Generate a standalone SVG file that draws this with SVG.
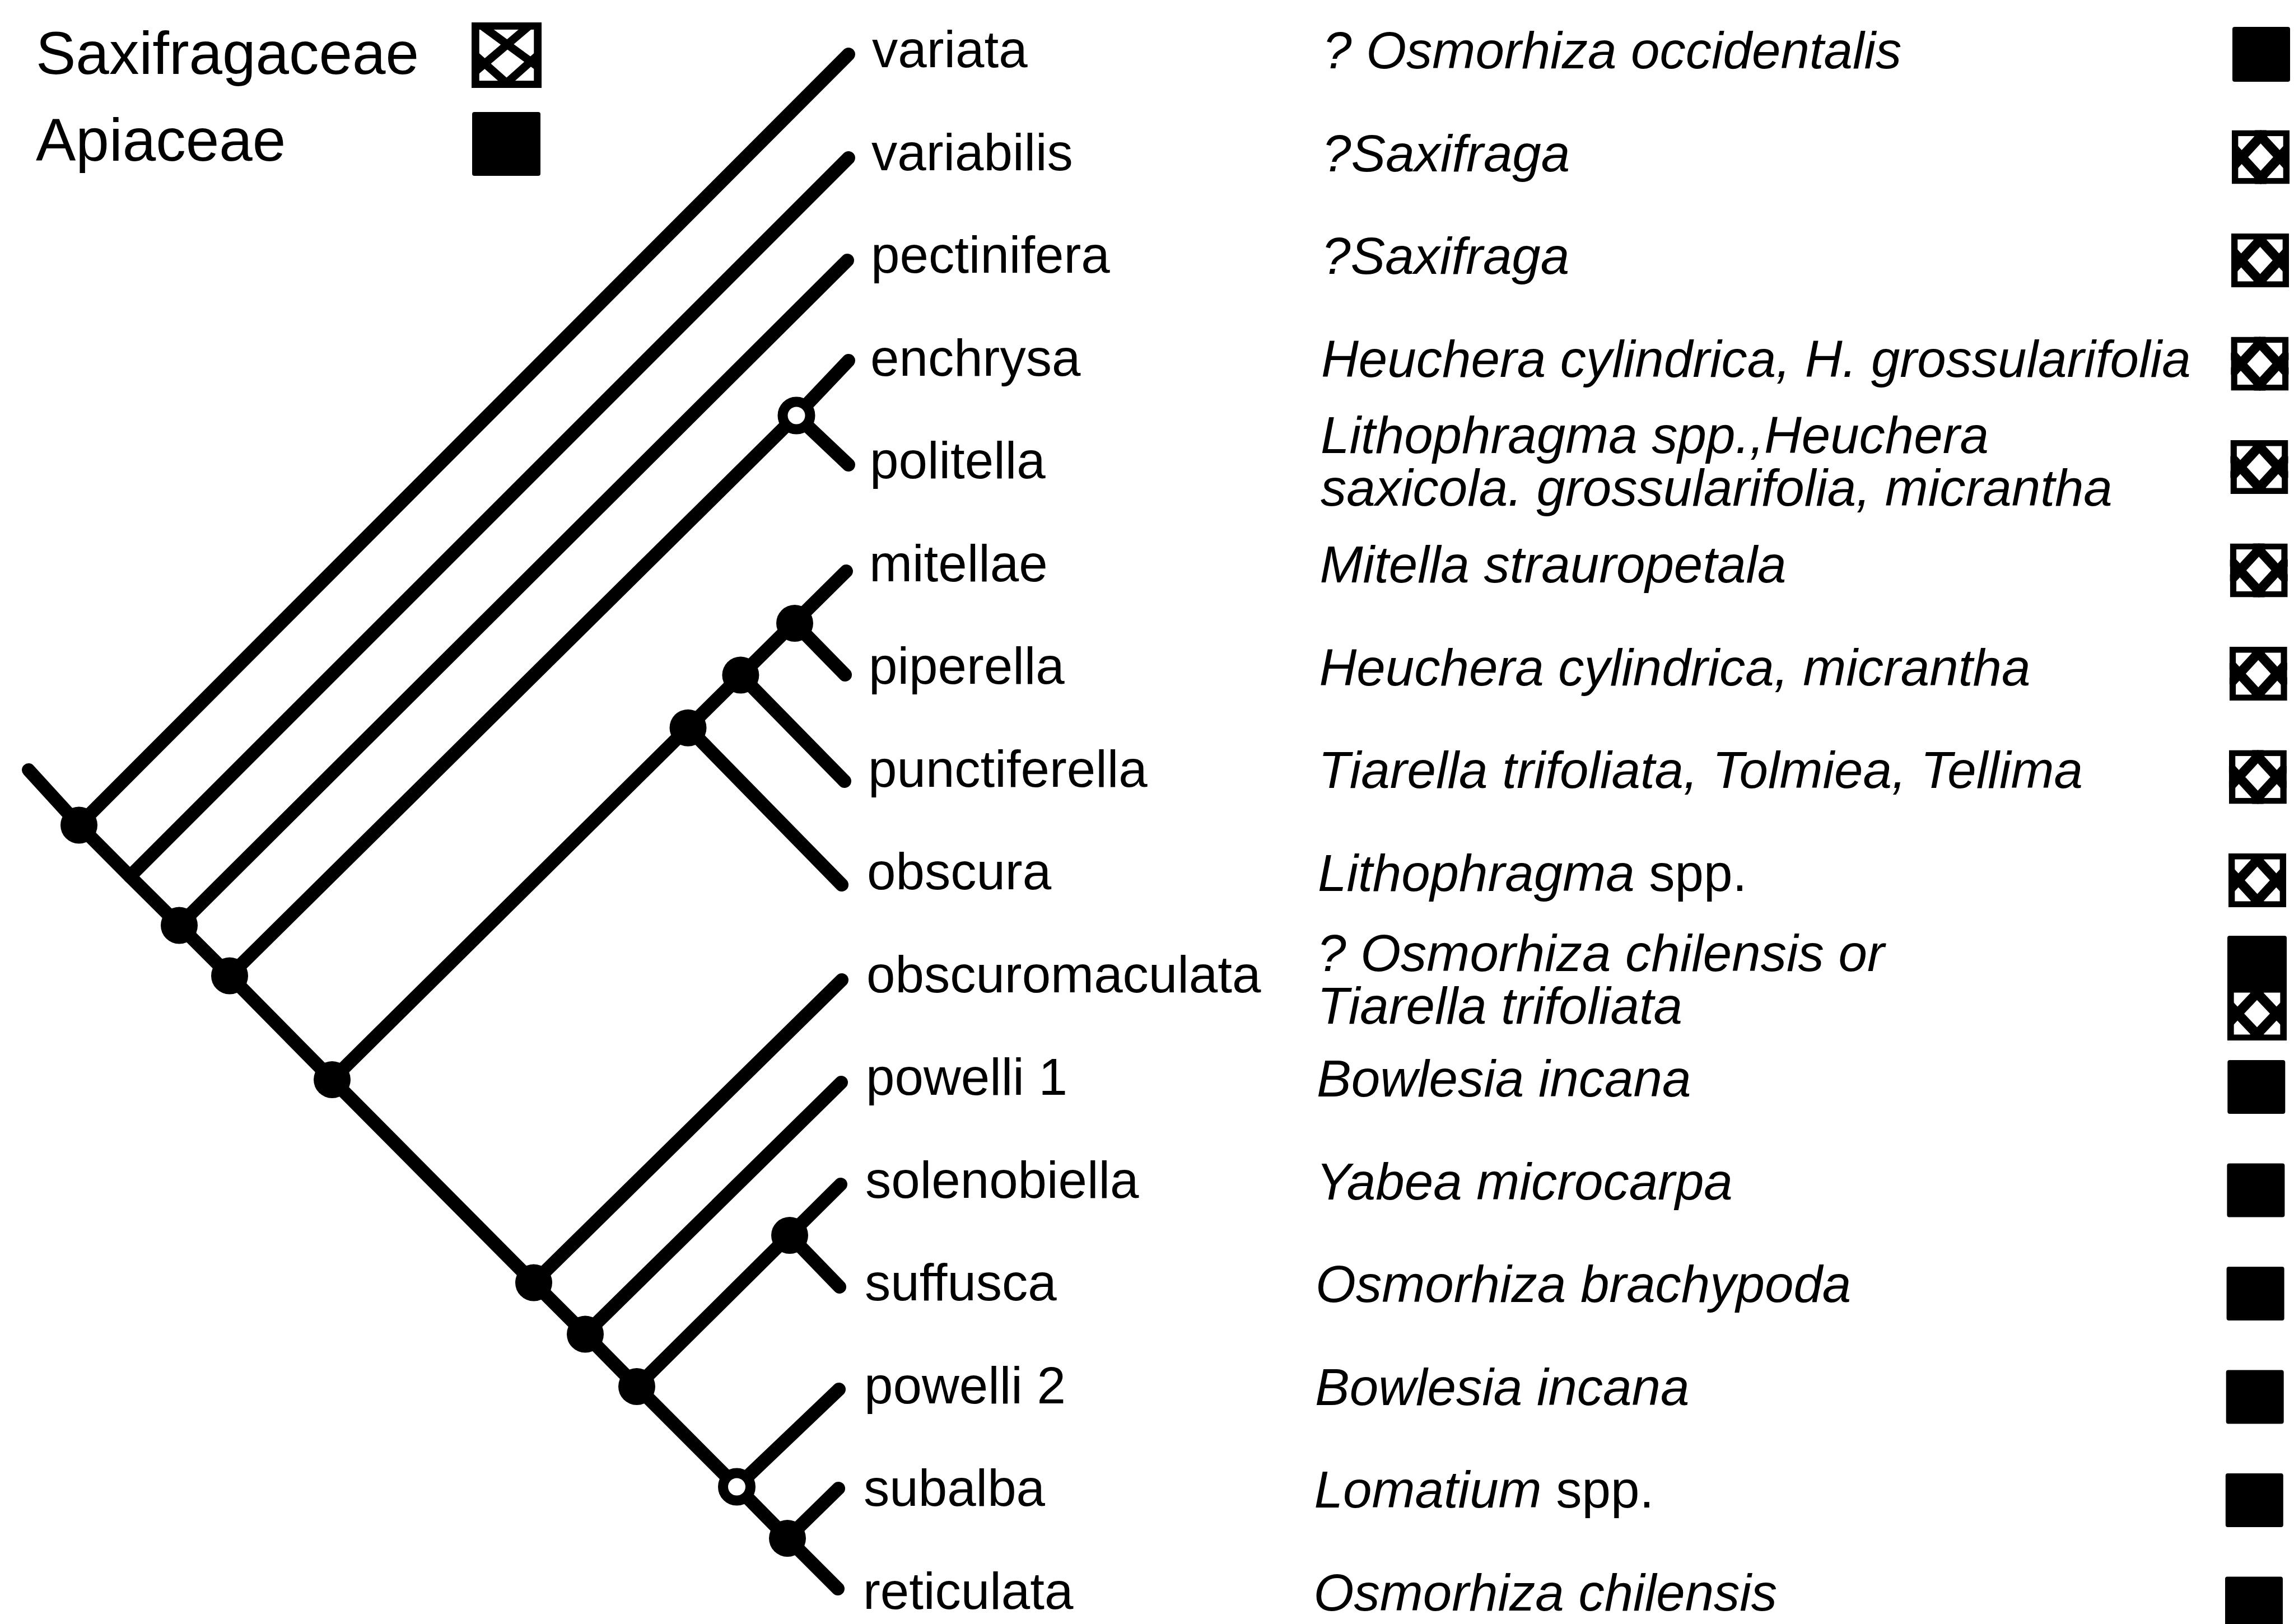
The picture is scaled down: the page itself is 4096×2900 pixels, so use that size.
<svg xmlns="http://www.w3.org/2000/svg" xmlns:xlink="http://www.w3.org/1999/xlink" width="4096" height="2900" viewBox="0 0 4096 2900">
<style>
.sp{font-family:"Liberation Sans",Arial,Helvetica,sans-serif;font-size:92.5px;fill:#000}
.ho{font-family:"Liberation Sans",Arial,Helvetica,sans-serif;font-size:92.5px;font-style:italic;fill:#000}
.up{font-style:normal}
.lg{font-family:"Liberation Sans",Arial,Helvetica,sans-serif;font-size:107px;fill:#000}
.br{fill:none;stroke:#000;stroke-width:24;stroke-linecap:round;stroke-linejoin:round}
.dot{fill:#000}
.hol{fill:#fff;stroke:#000;stroke-width:18}
.blk{fill:#000}
</style>
<defs>
<symbol id="hatch" viewBox="0 0 100 100" preserveAspectRatio="none">
<rect x="0" y="0" width="100" height="100" fill="#fff"/>
<g stroke="#000" stroke-width="17" fill="none">
<line x1="60" y1="0" x2="0" y2="70"/>
<line x1="40" y1="0" x2="100" y2="70"/>
<line x1="0" y1="30" x2="60" y2="100"/>
<line x1="100" y1="30" x2="40" y2="100"/>
</g>
<rect x="5.5" y="5.5" width="89" height="89" fill="none" stroke="#000" stroke-width="11"/>
</symbol>
<symbol id="hatchL" viewBox="0 0 100 100" preserveAspectRatio="none">
<rect x="0" y="0" width="100" height="100" fill="#fff"/>
<g stroke="#000" stroke-width="12" fill="none">
<line x1="88" y1="0" x2="0" y2="80"/>
<line x1="8" y1="0" x2="100" y2="72"/>
<line x1="0" y1="45" x2="58" y2="100"/>
<line x1="100" y1="45" x2="42" y2="100"/>
</g>
<rect x="5.5" y="5.5" width="89" height="89" fill="none" stroke="#000" stroke-width="11"/>
</symbol>
</defs>
<rect width="4096" height="2900" fill="#fff"/>

<g id="legend">
<text class="lg" x="64" y="132">Saxifragaceae</text>
<use xlink:href="#hatchL" href="#hatchL" x="842" y="40" width="125" height="117"/>
<text class="lg" x="64" y="287">Apiaceae</text>
<rect class="blk" x="843" y="200" width="122" height="114" rx="4"/>
</g>

<g id="connectors">
<polyline class="br" points="51,1375 141,1473.5 232,1565 320,1652.5 410,1742.5 593,1928 953,2290.5 1045,2382.5 1137,2476 1315.5,2655 1406,2747 1496,2837"/>
<line class="br" x1="141" y1="1473.5" x2="1515" y2="97"/>
<line class="br" x1="232" y1="1565" x2="1515" y2="282"/>
<line class="br" x1="320" y1="1652.5" x2="1513" y2="465"/>
<line class="br" x1="410" y1="1742.5" x2="1422" y2="742"/>
<line class="br" x1="1422" y1="742" x2="1515" y2="644"/>
<line class="br" x1="1422" y1="742" x2="1515" y2="830"/>
<line class="br" x1="593" y1="1928" x2="1511" y2="1020"/>
<line class="br" x1="1228.5" y1="1299.7" x2="1503" y2="1580"/>
<line class="br" x1="1322.4" y1="1205.6" x2="1508" y2="1395"/>
<line class="br" x1="1419" y1="1113" x2="1509" y2="1205"/>
<line class="br" x1="953" y1="2290.5" x2="1503" y2="1750"/>
<line class="br" x1="1045" y1="2382.5" x2="1502" y2="1933"/>
<line class="br" x1="1137" y1="2476" x2="1501" y2="2115"/>
<line class="br" x1="1410" y1="2206" x2="1499" y2="2298"/>
<line class="br" x1="1315.5" y1="2655" x2="1498" y2="2481"/>
<line class="br" x1="1406" y1="2747" x2="1497" y2="2658"/>
</g>

<g id="tree-nodes">
<circle class="dot" cx="141" cy="1473.5" r="33"/>
<circle class="dot" cx="320" cy="1652.5" r="33"/>
<circle class="dot" cx="410" cy="1742.5" r="33"/>
<circle class="dot" cx="593" cy="1928" r="33"/>
<circle class="hol" cx="1422" cy="742" r="24.5"/>
<circle class="dot" cx="1228.5" cy="1299.7" r="33"/>
<circle class="dot" cx="1322.4" cy="1205.6" r="33"/>
<circle class="dot" cx="1419" cy="1113" r="33"/>
<circle class="dot" cx="953" cy="2290.5" r="33"/>
<circle class="dot" cx="1045" cy="2382.5" r="33"/>
<circle class="dot" cx="1137" cy="2476" r="33"/>
<circle class="dot" cx="1410" cy="2206" r="33"/>
<circle class="hol" cx="1315.5" cy="2655" r="24.5"/>
<circle class="dot" cx="1406" cy="2747" r="33"/>
</g>

<g id="row-variata">
<text class="sp" x="1557" y="120">variata</text>
<text class="ho" x="2362" y="122">? Osmorhiza occidentalis</text>
<rect class="blk" x="3986" y="48" width="103" height="98" rx="4"/>
</g>
<g id="row-variabilis">
<text class="sp" x="1556" y="303.5">variabilis</text>
<text class="ho" x="2361" y="305.6">?Saxifraga</text>
<use xlink:href="#hatch" href="#hatch" x="3985" y="232.5" width="103" height="96"/>
</g>
<g id="row-pectinifera">
<text class="sp" x="1555" y="487">pectinifera</text>
<text class="ho" x="2360" y="489.2">?Saxifraga</text>
<use xlink:href="#hatch" href="#hatch" x="3984" y="417" width="103" height="96"/>
</g>
<g id="row-enchrysa">
<text class="sp" x="1554" y="670.5">enchrysa</text>
<text class="ho" x="2359" y="672.8">Heuchera cylindrica, H. grossularifolia</text>
<use xlink:href="#hatch" href="#hatch" x="3983.4" y="601.5" width="103" height="96"/>
</g>
<g id="row-politella">
<text class="sp" x="1553" y="854">politella</text>
<text class="ho" x="2358" y="809">Lithophragma spp.,Heuchera</text>
<text class="ho" x="2358" y="903">saxicola. grossularifolia, micrantha</text>
<use xlink:href="#hatch" href="#hatch" x="3982.5" y="786" width="103" height="96"/>
</g>
<g id="row-mitellae">
<text class="sp" x="1552" y="1037.5">mitellae</text>
<text class="ho" x="2356.5" y="1040">Mitella strauropetala</text>
<use xlink:href="#hatch" href="#hatch" x="3981.7" y="970.5" width="103" height="96"/>
</g>
<g id="row-piperella">
<text class="sp" x="1551" y="1221">piperella</text>
<text class="ho" x="2355.5" y="1223.6">Heuchera cylindrica, micrantha</text>
<use xlink:href="#hatch" href="#hatch" x="3980.8" y="1155" width="103" height="96"/>
</g>
<g id="row-punctiferella">
<text class="sp" x="1550" y="1404.5">punctiferella</text>
<text class="ho" x="2354" y="1407.2">Tiarella trifoliata, Tolmiea, Tellima</text>
<use xlink:href="#hatch" href="#hatch" x="3979.9" y="1339.5" width="103" height="96"/>
</g>
<g id="row-obscura">
<text class="sp" x="1548" y="1588">obscura</text>
<text class="ho" x="2353" y="1590.8">Lithophragma<tspan class="up"> spp.</tspan></text>
<use xlink:href="#hatch" href="#hatch" x="3979" y="1524" width="103" height="96"/>
</g>
<g id="row-obscuromaculata">
<text class="sp" x="1547" y="1771.5">obscuromaculata</text>
<text class="ho" x="2352" y="1734">? Osmorhiza chilensis or</text>
<text class="ho" x="2352" y="1828">Tiarella trifoliata</text>
<use xlink:href="#hatch" href="#hatch" x="3977" y="1762" width="106" height="96"/>
<rect class="blk" x="3977" y="1671" width="106" height="101" rx="4"/>
</g>
<g id="row-powelli1">
<text class="sp" x="1546" y="1955">powelli 1</text>
<text class="ho" x="2351" y="1958">Bowlesia incana</text>
<rect class="blk" x="3977.3" y="1893" width="103" height="96" rx="4"/>
</g>
<g id="row-solenobiella">
<text class="sp" x="1545" y="2138.5">solenobiella</text>
<text class="ho" x="2350" y="2141.6">Yabea microcarpa</text>
<rect class="blk" x="3976.4" y="2077.5" width="103" height="96" rx="4"/>
</g>
<g id="row-suffusca">
<text class="sp" x="1544" y="2322">suffusca</text>
<text class="ho" x="2349" y="2325.2">Osmorhiza brachypoda</text>
<rect class="blk" x="3975.6" y="2262" width="103" height="96" rx="4"/>
</g>
<g id="row-powelli2">
<text class="sp" x="1543" y="2505.5">powelli 2</text>
<text class="ho" x="2348" y="2508.8">Bowlesia incana</text>
<rect class="blk" x="3974.7" y="2446.5" width="103" height="96" rx="4"/>
</g>
<g id="row-subalba">
<text class="sp" x="1542" y="2689">subalba</text>
<text class="ho" x="2346.5" y="2692.4">Lomatium<tspan class="up"> spp.</tspan></text>
<rect class="blk" x="3973.8" y="2631" width="103" height="96" rx="4"/>
</g>
<g id="row-reticulata">
<text class="sp" x="1541" y="2872.5">reticulata</text>
<text class="ho" x="2345.5" y="2876">Osmorhiza chilensis</text>
<rect class="blk" x="3973" y="2815.5" width="103" height="96" rx="4"/>
</g>
</svg>
